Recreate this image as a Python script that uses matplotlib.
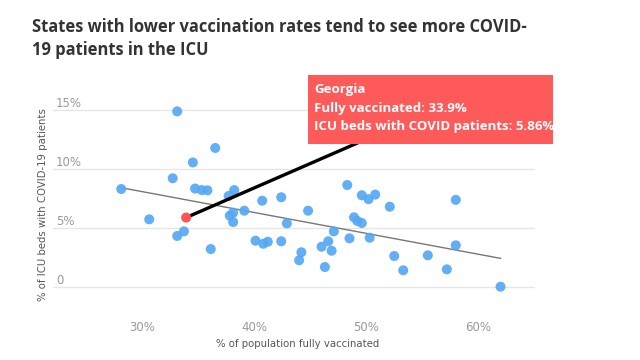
import matplotlib
matplotlib.use("Agg")
import matplotlib.pyplot as plt
from matplotlib.patches import Rectangle
import numpy as np

# ---- data ----
vaccinated = [28.1, 33.1, 36.5, 34.5, 32.7, 34.7, 35.3, 35.8, 38.2, 37.7,
              40.7, 42.4, 44.8, 39.1, 38.1, 37.8, 38.1, 30.6, 33.9, 33.7,
              33.1, 36.1, 40.1, 40.8, 41.2, 42.4, 42.9, 44.2, 44.0, 46.3,
              46.0, 46.6, 46.9, 47.1, 48.5, 48.3, 48.9, 49.2, 49.6, 49.6,
              50.2, 50.8, 52.1, 58.0, 50.3, 52.5, 53.3, 55.5, 57.2, 58.0,
              62.0]
icu_covid = [8.28, 14.86, 11.76, 10.53, 9.19, 8.32, 8.19, 8.17, 8.19, 7.69,
             7.29, 7.58, 6.44, 6.44, 6.27, 6.02, 5.48, 5.71, 5.86, 4.69,
             4.30, 3.19, 3.90, 3.64, 3.81, 3.85, 5.37, 2.92, 2.24, 1.67,
             3.39, 3.85, 3.05, 4.69, 4.10, 8.62, 5.88, 5.57, 5.40, 7.75,
             7.42, 7.81, 6.78, 7.36, 4.15, 2.60, 1.39, 2.66, 1.47, 3.51,
             0.0]
highlight_state = "Georgia"
highlight_index = 18
highlight_vax = 33.9
highlight_icu = 5.86

x_ticks = [30, 40, 50, 60]
x_tick_labels = ["30%", "40%", "50%", "60%"]
y_ticks = [0, 5, 10, 15]
y_tick_labels = ["0", "5%", "10%", "15%"]

title = "States with lower vaccination rates tend to see more COVID-\n19 patients in the ICU"
x_label = "% of population fully vaccinated"
y_label = "% of ICU beds with COVID-19 patients"

# ---- figure ----
W, H = 640, 360
fig = plt.figure(figsize=(6.4, 3.6), dpi=100)
fig.patch.set_facecolor("white")

ax = fig.add_axes([53 / W, (H - 299.7) / H, (535 - 53) / W, (299.7 - 97.9) / H])
ax.set_xlim(22.0, 65.08)
ax.set_ylim(-1.1, 16.0)
for s in ax.spines.values():
    s.set_visible(False)

ax.set_yticks(y_ticks, y_tick_labels)
ax.set_xticks(x_ticks, x_tick_labels)
ax.yaxis.grid(True, color="#e6e6e6", lw=1.0)
ax.set_axisbelow(True)
ax.tick_params(axis="y", length=0, pad=-2, labelsize=8.5, labelcolor="#999999")
ax.tick_params(axis="x", length=0, pad=15, labelsize=8.5, labelcolor="#999999")
for lab in ax.get_yticklabels():
    lab.set_horizontalalignment("left")
    lab.set_verticalalignment("bottom")

vx = np.array(vaccinated)
vy = np.array(icu_covid)

# trend line (least squares fit)
slope, intercept = np.polyfit(vx, vy, 1)
tx = np.array([vx.min(), vx.max()])
ax.plot(tx, slope * tx + intercept, color="#777777", lw=1.0, zorder=2)

mask = np.ones(len(vx), dtype=bool)
mask[highlight_index] = False
ax.scatter(vx[mask], vy[mask], s=52, color="#55a8f5", alpha=0.92,
           edgecolors="none", zorder=3)

# annotation connector
ax.annotate("", xy=(highlight_vax, highlight_icu), xytext=(362, H - 141),
            textcoords="figure pixels",
            arrowprops=dict(arrowstyle="-", color="black", lw=2.4,
                            shrinkA=0, shrinkB=0), zorder=4)
ax.scatter([highlight_vax], [highlight_icu], s=52, color="#ff5252",
           edgecolors="none", zorder=5)

# annotation box
box = Rectangle((308 / W, (H - 144) / H), 245 / W, 69 / H,
                transform=fig.transFigure, facecolor="#ff5a5a",
                edgecolor="none", zorder=10)
fig.add_artist(box)
box_lines = [highlight_state,
             f"Fully vaccinated: {highlight_vax}%",
             f"ICU beds with COVID patients: {highlight_icu}%"]
for i, (txt, yy) in enumerate(zip(box_lines, [90, 108.3, 126.7])):
    t = fig.text(314 / W, (H - yy) / H, txt, color="white", fontsize=9.5,
                 fontweight="bold", family=["Open Sans", "DejaVu Sans"],
                 va="center", ha="left", zorder=11)
    t.set_clip_path(box)

# title
fig.text(32 / W, (H - 18) / H, title, fontsize=11.9, fontweight="bold",
         color="#333333", family=["Open Sans", "DejaVu Sans"],
         va="top", ha="left", linespacing=1.35)

# axis labels
fig.text(298 / W, (H - 344) / H, x_label, fontsize=7.3, color="#555555",
         ha="center", va="center")
fig.text(43 / W, (H - 205) / H, y_label, fontsize=7.3, color="#555555",
         ha="center", va="center", rotation=90)

fig.savefig("out.png", dpi=100)
